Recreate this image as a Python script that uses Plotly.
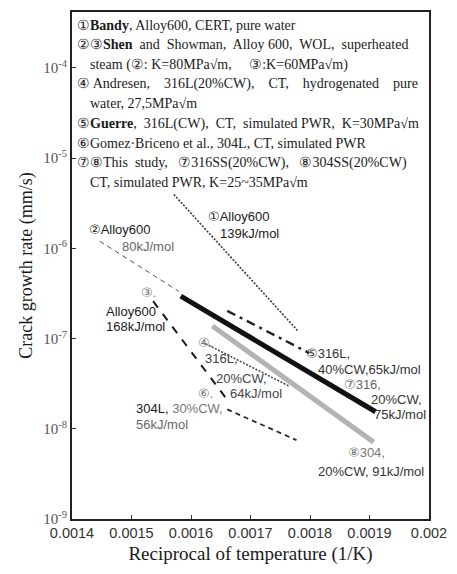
import numpy as np
import plotly.graph_objects as go

# Arrhenius lines: start point, end of the temperature span and activation energy
R_KJ = 8.314e-3  # kJ/(mol K)

line_ids = ["1", "2", "3", "4", "5", "6", "7", "8"]
x_start = [0.0015712, 0.0014465, 0.0015363, 0.0016244, 0.0016609, 0.0016609, 0.0015828, 0.0016360]
y_start = [3.96e-6, 1.20e-6, 2.60e-7, 8.77e-8, 2.03e-7, 1.64e-8, 2.96e-7, 1.38e-7]
x_end = [0.0017789, 0.0015795, 0.0016609, 0.0017656, 0.0017989, 0.0017773, 0.0019102, 0.0019069]
q_kj = [139, 80, 168, 64, 65, 56, 75, 91]

x_ticks = [0.0014, 0.0015, 0.0016, 0.0017, 0.0018, 0.0019, 0.002]
x_ticktext = ["0.0014", "0.0015", "0.0016", "0.0017", "0.0018", "0.0019", "0.002"]
y_exponents = [-9, -8, -7, -6, -5, -4]

source_notes = [
    "①<b>Bandy</b>, Alloy600, CERT, pure water",
    "②③<b>Shen</b>  and  Showman,  Alloy 600,  WOL,  superheated",
    "steam (②: K=80MPa√m,     ③:K=60MPa√m)",
    "④ Andresen,    316L(20%CW),    CT,    hydrogenated    pure",
    "water, 27,5MPa√m",
    "⑤<b>Guerre</b>,  316L(CW),  CT,  simulated PWR,  K=30MPa√m",
    "⑥Gomez·Briceno et al., 304L, CT, simulated PWR",
    "⑦⑧This  study,   ⑦316SS(20%CW),   ⑧304SS(20%CW)",
    "CT, simulated PWR, K=25~35MPa√m",
]
note_indent = [False, False, True, False, True, False, False, False, True]

styles = {
    "1": dict(color="#3a3a3a", width=1.6, dash="2px,1.5px"),
    "2": dict(color="#555555", width=1.0, dash="5px,4px"),
    "3": dict(color="#1a1a1a", width=2.0, dash="8px,8px"),
    "4": dict(color="#4a4a4a", width=1.6, dash="2px,1.5px"),
    "5": dict(color="#222222", width=2.4, dash="9px,5px,3px,5px"),
    "6": dict(color="#2a2a2a", width=1.8, dash="5px,4px"),
    "7": dict(color="#111111", width=5.0, dash="solid"),
    "8": dict(color="#b3b3b3", width=5.0, dash="solid"),
}

fig = go.Figure()
for lid, x0, y0, x1, q in zip(line_ids, x_start, y_start, x_end, q_kj):
    y1 = y0 * np.exp(-q / R_KJ * (x1 - x0))
    fig.add_trace(go.Scatter(
        x=[x0, x1], y=[y0, y1], mode="lines",
        line=styles[lid], showlegend=False, hoverinfo="skip",
    ))

SANS = "Liberation Sans, Arial, DejaVu Sans, sans-serif"
SERIF = "Liberation Serif, Times New Roman, DejaVu Serif, serif"

annotations = []

# Source list at the top of the plot area
for i, (txt, ind) in enumerate(zip(source_notes, note_indent)):
    annotations.append(dict(
        xref="paper", yref="paper",
        x=0.045 if ind else 0.008, y=0.974 - i * 0.0388,
        xanchor="left", yanchor="middle", showarrow=False,
        text=txt, font=dict(family=SERIF, size=14, color="#1a1a1a"),
    ))

# Line labels (x in 1/K, y as log10 of rate)
line_labels = [
    ("①Alloy600", 0.0016244, -5.645, "#1a1a1a"),
    ("139kJ/mol", 0.0016460, -5.832, "#1a1a1a"),
    ("②Alloy600", 0.0014249, -5.788, "#1a1a1a"),
    ("80kJ/mol", 0.0014814, -5.976, "#666666"),
    ("③.", 0.0015130, -6.494, "#777777"),
    ("Alloy600", 0.0014532, -6.704, "#1a1a1a"),
    ("168kJ/mol", 0.0014532, -6.862, "#1a1a1a"),
    ("④.", 0.0016078, -7.046, "#777777"),
    ("316L,", 0.0016194, -7.223, "#444444"),
    ("20%CW,", 0.0016393, -7.444, "#444444"),
    ("64kJ/mol", 0.0016626, -7.606, "#444444"),
    ("⑤316L,", 0.0017906, -7.168, "#333333"),
    ("40%CW,65kJ/mol", 0.0018105, -7.344, "#333333"),
    ("⑦316,", 0.0018537, -7.510, "#666666"),
    ("20%CW,", 0.0018986, -7.675, "#333333"),
    ("75kJ/mol", 0.0019036, -7.841, "#333333"),
    ("⑥.", 0.0016078, -7.609, "#777777"),
    ("304L, <span style='color:#777777'>30%CW,</span>", 0.0015047, -7.775, "#1a1a1a"),
    ("56kJ/mol", 0.0015047, -7.951, "#666666"),
    ("⑧304,", 0.0018604, -8.260, "#777777"),
    ("20%CW, 91kJ/mol", 0.0018105, -8.470, "#333333"),
]
for txt, lx, ly, col in line_labels:
    annotations.append(dict(
        x=lx, y=ly, xref="x", yref="y",
        xanchor="left", yanchor="middle", showarrow=False,
        text=txt, font=dict(family=SANS, size=13, color=col),
    ))

fig.update_layout(
    width=457, height=574,
    margin=dict(l=72, r=24, t=10, b=55),
    paper_bgcolor="white", plot_bgcolor="white",
    annotations=annotations,
    xaxis=dict(
        range=[0.0014, 0.002],
        tickvals=x_ticks, ticktext=x_ticktext,
        ticks="inside", ticklen=4, tickcolor="#333333",
        tickfont=dict(family=SANS, size=14.5, color="#333333"),
        showgrid=False, zeroline=False,
        showline=True, linecolor="#222222", linewidth=2, mirror=True,
        title=dict(text="Reciprocal of temperature (1/K)",
                   font=dict(family=SERIF, size=19, color="#1a1a1a"), standoff=6),
    ),
    yaxis=dict(
        type="log", range=[-9, -3.38],
        tickvals=[10.0 ** e for e in y_exponents],
        ticktext=["10<sup>%d</sup>" % e for e in y_exponents],
        ticks="inside", ticklen=4, tickcolor="#333333",
        tickfont=dict(family=SERIF, size=15, color="#555555"),
        showgrid=False, zeroline=False,
        showline=True, linecolor="#222222", linewidth=2, mirror=True,
        title=dict(text="Crack growth rate (mm/s)",
                   font=dict(family=SERIF, size=18, color="#1a1a1a"), standoff=6),
    ),
)

fig.write_html("out.html")
